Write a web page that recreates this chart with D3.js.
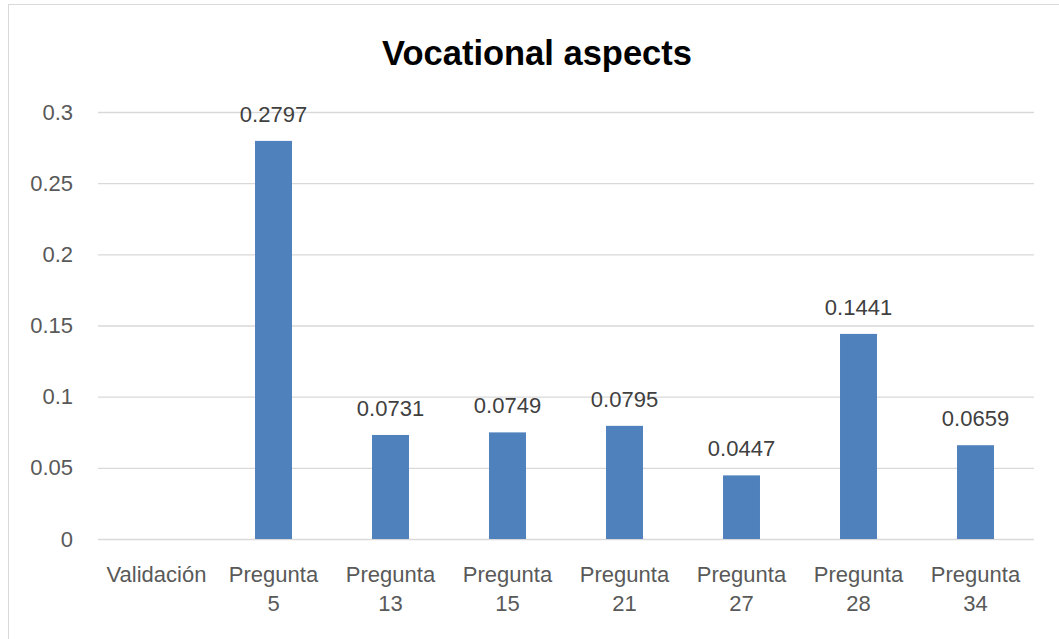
<!DOCTYPE html>
<html>
<head>
<meta charset="utf-8">
<script src="https://cdn.jsdelivr.net/npm/d3@7"></script>
<style>
  body { margin: 0; background: #fff; }
  text { font-family: "Liberation Sans", Arial, sans-serif; }
</style>
</head>
<body>
<div id="vis"></div>
<script>
// chart data
const categories = ['Validación', 'Pregunta 5', 'Pregunta 13', 'Pregunta 15', 'Pregunta 21', 'Pregunta 27', 'Pregunta 28', 'Pregunta 34']
const values = [null, 0.2797, 0.0731, 0.0749, 0.0795, 0.0447, 0.1441, 0.0659]
const yTicks = [0, 0.05, 0.1, 0.15, 0.2, 0.25, 0.3]
const yTickLabels = ['0', '0.05', '0.1', '0.15', '0.2', '0.25', '0.3']
const title = 'Vocational aspects'

const W = 1059, H = 639
const plot = {left: 98, right: 1034, top: 112, bottom: 539}

const svg = d3.select('#vis')
    .append('svg')
    .attr('width', W)
    .attr('height', H)

// outer chart border (right/bottom run off the picture)
svg.append('rect')
    .attr('x', 8.5).attr('y', 4.5)
    .attr('width', W + 10).attr('height', H + 10)
    .attr('fill', '#fff')
    .attr('stroke', '#d9d9d9')

svg.append('text')
    .attr('x', 537)
    .attr('y', 65)
    .attr('text-anchor', 'middle')
    .attr('font-size', 34.5)
    .attr('font-weight', 'bold')
    .attr('fill', '#000')
    .text(title)

const xScale = d3.scaleBand()
    .domain(categories)
    .range([plot.left, plot.right])
    .padding(0)

const yScale = d3.scaleLinear()
    .domain([0, 0.3])
    .range([plot.bottom, plot.top])

// y axis with gridlines
const yAxis = d3.axisLeft(yScale)
    .tickValues(yTicks)
    .tickFormat((d, i) => yTickLabels[i])
    .tickSizeInner(-(plot.right - plot.left))
    .tickSizeOuter(0)
    .tickPadding(25)

const gy = svg.append('g')
    .attr('transform', `translate(${plot.left},0)`)
    .call(yAxis)
gy.select('.domain').remove()
gy.selectAll('.tick line').attr('stroke', '#d9d9d9').attr('stroke-width', 1.3)
gy.selectAll('.tick text')
    .attr('font-size', 22)
    .attr('fill', '#595959')
    .attr('font-family', '"Liberation Sans", Arial, sans-serif')

// bars
const barW = xScale.bandwidth() * 0.316
const data = categories.map((c, i) => ({cat: c, val: values[i]})).filter(d => d.val != null)

svg.selectAll('.bar')
    .data(data)
    .enter()
    .append('rect')
    .attr('class', 'bar')
    .attr('x', d => xScale(d.cat) + xScale.bandwidth() / 2 - barW / 2)
    .attr('y', d => yScale(d.val))
    .attr('width', barW)
    .attr('height', d => yScale(0) - yScale(d.val))
    .attr('fill', '#4f81bd')

// data labels
svg.selectAll('.lbl')
    .data(data)
    .enter()
    .append('text')
    .attr('class', 'lbl')
    .attr('x', d => xScale(d.cat) + xScale.bandwidth() / 2)
    .attr('y', d => yScale(d.val) - 19)
    .attr('text-anchor', 'middle')
    .attr('font-size', 22)
    .attr('fill', '#404040')
    .text(d => d.val.toFixed(4))

// x axis labels (wrapped into two lines)
const xAxis = d3.axisBottom(xScale).tickSize(0).tickPadding(0)
const gx = svg.append('g')
    .attr('transform', `translate(0,${plot.bottom})`)
    .call(xAxis)
gx.select('.domain').remove()
gx.selectAll('.tick text').each(function(d) {
    const t = d3.select(this)
    const parts = d.split(' ')
    t.text(null)
        .attr('y', 0)
        .attr('dy', null)
        .attr('font-size', 22)
        .attr('fill', '#595959')
        .attr('font-family', '"Liberation Sans", Arial, sans-serif')
    parts.forEach((p, i) => {
        t.append('tspan')
            .attr('x', 0)
            .attr('y', 43 + i * 29)
            .text(p)
    })
})
</script>
</body>
</html>
